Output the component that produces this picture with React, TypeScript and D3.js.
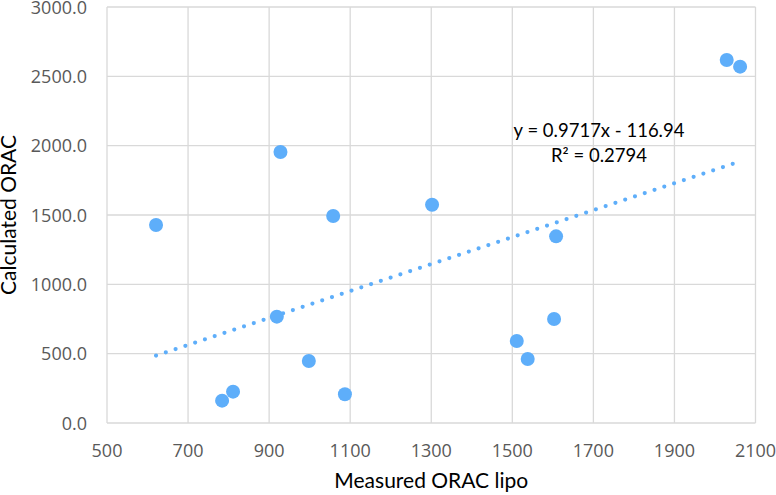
import React from "react";
import * as d3 from "d3";

const measured = [621, 928, 1058, 919, 998, 784, 811, 1087, 1302, 1608, 1603, 1511, 1538, 2029, 2062];
const calculated = [1428, 1954, 1493, 767, 447, 161, 226, 207, 1574, 1346, 750, 591, 462, 2618, 2570];
const xTicks = [500, 700, 900, 1100, 1300, 1500, 1700, 1900, 2100];
const yTicks = [0, 500, 1000, 1500, 2000, 2500, 3000];
const slope = 0.9717;
const intercept = -116.94;
const eqLabel = "y = 0.9717x - 116.94";
const r2Label = "R² = 0.2794";
const xTitle = "Measured ORAC lipo";
const yTitle = "Calculated ORAC";

export default function App() {
  const W = 776, H = 495;
  const left = 107, right = 755.5, top = 7, bottom = 423;
  const x = d3.scaleLinear().domain([500, 2100]).range([left, right]);
  const y = d3.scaleLinear().domain([0, 3000]).range([bottom, top]);
  const xMin = d3.min(measured) as number;
  const xMax = d3.max(measured) as number;
  const line = d3.line<number>().x((d) => x(d)).y((d) => y(slope * d + intercept));
  const pts = measured.map((m, i) => ({ m, c: calculated[i] }));
  const grid = "#d9d9d9";
  const tickFont = "'Open Sans', sans-serif";
  const titleFont = "Lato, 'Open Sans', sans-serif";
  return (
    <svg width={W} height={H} style={{ position: "absolute", left: 0, top: 0, background: "#fff" }}>
      <rect x={0} y={0} width={W} height={H} fill="#fff" />
      {xTicks.map((t) => (
        <line key={"gx" + t} x1={x(t)} x2={x(t)} y1={top} y2={bottom} stroke={grid} strokeWidth={1.3} />
      ))}
      {yTicks.map((t) => (
        <line key={"gy" + t} x1={left} x2={right} y1={y(t)} y2={y(t)} stroke={grid} strokeWidth={1.3} />
      ))}
      {yTicks.map((t) => (
        <text key={"ty" + t} x={87} y={y(t) + 6.5} textAnchor="end" fontFamily={tickFont} fontSize={18} fill="#595959">
          {t.toFixed(1)}
        </text>
      ))}
      {xTicks.map((t) => (
        <text key={"tx" + t} x={x(t)} y={456.5} textAnchor="middle" fontFamily={tickFont} fontSize={18} fill="#595959">
          {t}
        </text>
      ))}
      <path
        d={line([xMin, xMax]) || ""}
        fill="none"
        stroke="#5eaefa"
        strokeWidth={4.2}
        strokeLinecap="round"
        strokeDasharray="0 10.3"
      />
      {pts.map((p, i) => (
        <circle key={i} cx={x(p.m)} cy={y(p.c)} r={7} fill="#5eaefa" />
      ))}
      <text x={599} y={137} textAnchor="middle" fontFamily={titleFont} fontSize={18.5} fill="#000">
        {eqLabel}
      </text>
      <text x={599} y={162} textAnchor="middle" fontFamily={titleFont} fontSize={18.5} fill="#000">
        {r2Label}
      </text>
      <text x={(left + right) / 2} y={487.7} textAnchor="middle" fontFamily={titleFont} fontSize={21} fill="#000">
        {xTitle}
      </text>
      <text
        transform={`translate(16, ${(top + bottom) / 2}) rotate(-90)`}
        textAnchor="middle"
        fontFamily={titleFont}
        fontSize={21}
        fill="#000"
      >
        {yTitle}
      </text>
    </svg>
  );
}
